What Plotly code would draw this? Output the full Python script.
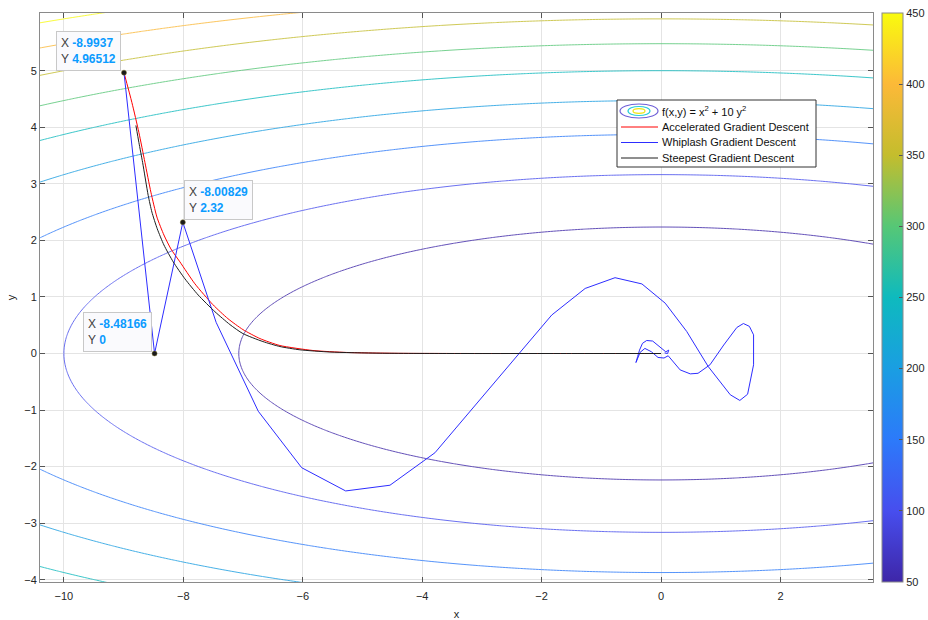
import numpy as np
import plotly.graph_objects as go

# ---------------- data ----------------
contour_levels = [50, 100, 150, 200, 250, 300, 350, 400, 450]
grid_x = np.linspace(-11, 4.5, 311)
grid_y = np.linspace(-4.6, 6.6, 225)

acc_x = [-8.9937, -8.861, -8.744, -8.643, -8.543, -8.442, -8.325, -8.208, -8.057, -7.806,
         -7.504, -7.253, -7.002, -6.717, -6.382, -5.829, -5.260, -4.372, -3.0, -1.5, 0.0]
acc_y = [4.96512, 4.437, 3.908, 3.380, 2.852, 2.412, 2.095, 1.849, 1.620, 1.232,
         0.863, 0.616, 0.423, 0.264, 0.141, 0.053, 0.018, 0.003, 0.0, 0.0, 0.0]

whip_x = [-8.9937, -8.48166, -8.00829, -7.45, -6.745, -6.018, -5.281, -4.539, -3.786,
          -1.83, -1.27, -0.77, -0.32, 0.07, 0.43, 0.79, 1.16, 1.32, 1.45, 1.55, 1.55,
          1.48, 1.38, 1.27, 1.05, 0.82, 0.62, 0.49, 0.32, 0.15,
          0.12, 0.05, -0.05, -0.16, -0.27, -0.35, -0.40, -0.42, -0.39, -0.36, -0.31,
          -0.24, -0.14, -0.02, 0.08, 0.13, 0.11, 0.06]
whip_y = [4.96512, 0.0, 2.32, 0.55, -1.021, -2.019, -2.430, -2.329, -1.755,
          0.68, 1.15, 1.34, 1.23, 0.89, 0.39, -0.23, -0.73, -0.83, -0.72, -0.20, 0.33,
          0.48, 0.53, 0.46, 0.15, -0.20, -0.35, -0.36, -0.29, -0.08,
          -0.04, -0.08, -0.07, 0.03, 0.09, 0.02, -0.10, -0.16, -0.05, 0.06, 0.18,
          0.23, 0.22, 0.12, 0.03, 0.06, 0.0, 0.01]

steep_x = [-8.794, -8.744, -8.682, -8.588, -8.526, -8.437, -8.325, -8.169, -7.973, -7.750,
           -7.471, -7.219, -7.002, -6.667, -6.382, -6.047, -5.544, -4.707, -3.534, -1.5, 0.0]
steep_y = [4.032, 3.732, 3.380, 2.794, 2.500, 2.206, 1.919, 1.620, 1.320, 1.033,
           0.739, 0.511, 0.352, 0.211, 0.123, 0.065, 0.026, 0.005, 0.0, 0.0, 0.0]

tip_x = [-8.9937, -8.00829, -8.48166]
tip_y = [4.96512, 2.32, 0.0]
tip_labels_x = ["-8.9937", "-8.00829", "-8.48166"]
tip_labels_y = ["4.96512", "2.32", "0"]

x_ticks = [-10, -8, -6, -4, -2, 0, 2]
y_ticks = [-4, -3, -2, -1, 0, 1, 2, 3, 4, 5]
cbar_ticks = [50, 100, 150, 200, 250, 300, 350, 400, 450]

legend_names = ["f(x,y) = x<sup>2</sup> + 10 y<sup>2</sup>",
                "Accelerated Gradient Descent",
                "Whiplash Gradient Descent",
                "Steepest Gradient Descent"]

# ---------------- styling ----------------
parula = [
    [0.000, "rgb(62,38,168)"],
    [0.125, "rgb(71,78,238)"],
    [0.250, "rgb(44,122,250)"],
    [0.375, "rgb(26,158,226)"],
    [0.500, "rgb(14,186,190)"],
    [0.625, "rgb(86,199,118)"],
    [0.750, "rgb(196,189,45)"],
    [0.875, "rgb(252,185,56)"],
    [1.000, "rgb(249,251,14)"],
]
FONT = "Liberation Sans, Arial, Helvetica, sans-serif"
TXT = "#262626"
RED = "rgb(255,0,0)"
BLUE = "rgb(45,45,255)"
BLACK = "rgb(30,30,30)"
TIPBLUE = "rgb(10,155,255)"

GX, GY = np.meshgrid(grid_x, grid_y)
Z = GX ** 2 + 10 * GY ** 2

fig = go.Figure()
fig.add_trace(go.Contour(
    x=grid_x, y=grid_y, z=Z,
    zmin=contour_levels[0], zmax=contour_levels[-1],
    autocontour=False,
    contours=dict(start=contour_levels[0], end=contour_levels[-1],
                  size=contour_levels[1] - contour_levels[0], coloring="lines"),
    colorscale=parula, line=dict(width=1), showscale=False, opacity=0.8,
    hoverinfo="skip", showlegend=False))

fig.add_trace(go.Scatter(x=acc_x, y=acc_y, mode="lines",
                         line=dict(color=RED, width=1, shape="spline", smoothing=0.6),
                         showlegend=False, hoverinfo="skip"))
fig.add_trace(go.Scatter(x=whip_x, y=whip_y, mode="lines",
                         line=dict(color=BLUE, width=1),
                         showlegend=False, hoverinfo="skip"))
fig.add_trace(go.Scatter(x=steep_x, y=steep_y, mode="lines",
                         line=dict(color=BLACK, width=1, shape="spline", smoothing=0.6),
                         showlegend=False, hoverinfo="skip"))
fig.add_trace(go.Scatter(x=tip_x, y=tip_y, mode="markers",
                         marker=dict(color="#1a1a1a", size=5,
                                     line=dict(color="rgb(120,110,40)", width=0.5)),
                         showlegend=False, hoverinfo="skip"))

# colorbar carrier
fig.add_trace(go.Scatter(
    x=[None, None], y=[None, None], mode="markers",
    marker=dict(color=[cbar_ticks[0], cbar_ticks[-1]],
                cmin=cbar_ticks[0] - 0.01, cmax=cbar_ticks[-1] + 0.01,
                colorscale=parula, showscale=True,
                colorbar=dict(x=1.0108, xanchor="left", xpad=0, ypad=0,
                              y=0.5, yanchor="middle", len=1.0, lenmode="fraction",
                              thickness=21, outlinecolor="#8a8a8a", outlinewidth=1,
                              tickvals=cbar_ticks, ticks="inside", ticklen=4,
                              tickcolor="#555", tickfont=dict(size=11, color=TXT, family=FONT))),
    showlegend=False, hoverinfo="skip"))

# data tips
anchors = [("right", -3), ("left", 1), ("right", -3)]
for i in range(len(tip_x)):
    xa, xs = anchors[i]
    fig.add_annotation(
        x=tip_x[i], y=tip_y[i], xref="x", yref="y", showarrow=False,
        xanchor=xa, yanchor="bottom", xshift=xs, yshift=2, align="left",
        text=(f"<span style='color:#404040'>X</span> <b><span style='color:{TIPBLUE}'>{tip_labels_x[i]}</span></b><br>"
              f"<span style='color:#404040'>Y</span> <b><span style='color:{TIPBLUE}'>{tip_labels_y[i]}</span></b>"),
        font=dict(size=12, family=FONT), bgcolor="rgba(250,250,253,0.97)",
        bordercolor="#c8c8c8", borderwidth=1, borderpad=4)

# custom legend (paper coordinates)
def px2paper(px, py):
    return (px - 40) / 833.0, (582 - py) / 569.0

bx0, by0 = px2paper(617, 167)
bx1, by1 = px2paper(816, 100)
fig.add_shape(type="rect", xref="paper", yref="paper", x0=bx0, y0=by0, x1=bx1, y1=by1,
              line=dict(color="#333", width=1), fillcolor="white", layer="above")
row_py = [111, 127, 142.5, 158]
# ellipse icon
for (w, h, c) in [(19, 7, "rgb(110,95,215)"), (11, 4.5, "rgb(40,205,215)"), (6, 2.3, "rgb(240,230,20)")]:
    ex0, ey0 = px2paper(639 - w, row_py[0] + h)
    ex1, ey1 = px2paper(639 + w, row_py[0] - h)
    fig.add_shape(type="circle", xref="paper", yref="paper", x0=ex0, y0=ey0, x1=ex1, y1=ey1,
                  line=dict(color=c, width=1.2), layer="above")
for py, col in zip(row_py[1:], [RED, BLUE, BLACK]):
    lx0, ly = px2paper(621, py)
    lx1, _ = px2paper(658, py)
    fig.add_shape(type="line", xref="paper", yref="paper", x0=lx0, y0=ly, x1=lx1, y1=ly,
                  line=dict(color=col, width=1), layer="above")
for py, name in zip(row_py, legend_names):
    tx, ty = px2paper(660, py)
    fig.add_annotation(x=tx, y=ty, xref="paper", yref="paper", showarrow=False,
                       xanchor="left", yanchor="middle", text=name,
                       font=dict(size=11, color="#111", family=FONT))

axis_common = dict(showline=True, linecolor="#8a8a8a", linewidth=1, mirror="ticks",
                   ticks="inside", ticklen=5, tickcolor="#555", automargin=False,
                   showgrid=True, gridcolor="#e4e4e4", gridwidth=1, zeroline=False,
                   tickfont=dict(size=11, color=TXT, family=FONT))
fig.update_layout(
    width=928, height=620,
    margin=dict(l=40, r=55, t=13, b=38, autoexpand=False),
    paper_bgcolor="white", plot_bgcolor="white",
    font=dict(family=FONT, color=TXT),
    showlegend=False,
    xaxis=dict(range=[-10.4, 3.55], tickvals=x_ticks, ticklabelstandoff=4,
               title=dict(text="x", font=dict(size=11, color=TXT), standoff=11), **axis_common),
    yaxis=dict(range=[-4.04, 6.02], tickvals=y_ticks,
               title=dict(text="y", font=dict(size=11, color=TXT), standoff=6), **axis_common),
)

fig.write_html("out.html", config={"displayModeBar": False},
               post_script="document.body.style.margin='0';document.body.style.overflow='hidden';")
